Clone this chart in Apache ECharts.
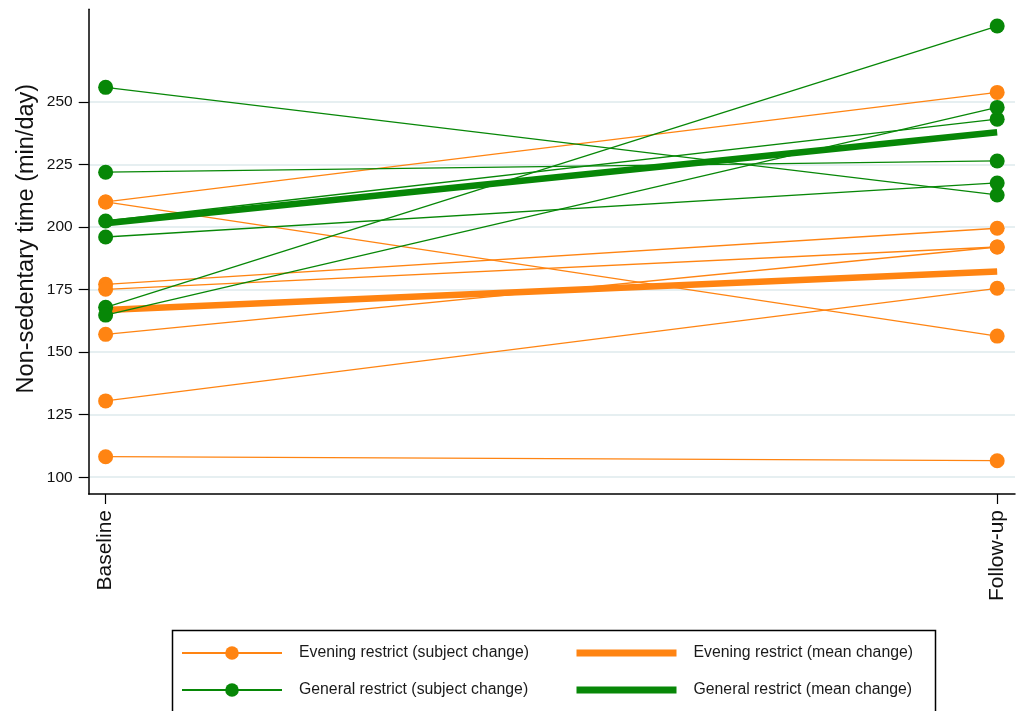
<!DOCTYPE html>
<html>
<head>
<meta charset="utf-8">
<script src="https://cdn.jsdelivr.net/npm/echarts@6/dist/echarts.min.js"></script>
<style>
html,body{margin:0;padding:0;background:#fff;}
#chart{width:1020px;height:711px;}
</style>
</head>
<body>
<div id="chart"></div>
<script>
// ---- data ----
var timepoints = ['Baseline', 'Follow-up'];
var yTicks = [100, 125, 150, 175, 200, 225, 250];
// Evening restrict: each subject's baseline and follow-up value (same index = same subject)
var eveningBaseline = [210.0, 210.0, 177.1, 175.1, 157.1, 130.5, 108.2];
var eveningFollowup = [253.8, 156.4, 199.5, 192.0, 192.0, 175.5, 106.6];
var eveningMean = [166.8, 182.2];
// General restrict
var generalBaseline = [255.8, 221.9, 202.4, 196.0, 167.9, 164.8];
var generalFollowup = [212.8, 226.4, 243.1, 217.6, 280.3, 247.8];
var generalMean = [201.5, 237.9];

var names = {
  evS: 'Evening restrict (subject change)',
  evM: 'Evening restrict (mean change)',
  geS: 'General restrict (subject change)',
  geM: 'General restrict (mean change)'
};
var ORANGE = '#ff8412';
var GREEN = '#078707';
var FONT = '"Liberation Sans", Arial, Helvetica, sans-serif';

var series = [];
function subjectSeries(name, base, follow, color, z) {
  for (var i = 0; i < base.length; i++) {
    series.push({
      name: name, type: 'line', z: z,
      data: [[0, base[i]], [1, follow[i]]],
      symbol: 'circle', symbolSize: 15,
      lineStyle: {color: color, width: 1.3},
      itemStyle: {color: color},
      emphasis: {disabled: true}
    });
  }
}
function meanSeries(name, vals, color, z) {
  series.push({
    name: name, type: 'line', z: z,
    data: [[0, vals[0]], [1, vals[1]]],
    symbol: 'none', showSymbol: false,
    lineStyle: {color: color, width: 6.5},
    itemStyle: {color: color},
    emphasis: {disabled: true}
  });
}
subjectSeries(names.evS, eveningBaseline, eveningFollowup, ORANGE, 2);
meanSeries(names.evM, eveningMean, ORANGE, 3);
subjectSeries(names.geS, generalBaseline, generalFollowup, GREEN, 4);
meanSeries(names.geM, generalMean, GREEN, 5);

function legendAt(item, left, top) {
  return {
    orient: 'horizontal', left: left, top: top,
    itemWidth: 100, itemHeight: 17, itemGap: 10,
    selectedMode: false,
    textStyle: {fontFamily: FONT, fontSize: 15.8, color: '#1a1a1a', padding: [0, 0, 0, 12]},
    data: [item]
  };
}
var meanIcon = function (name) {
  return {name: name, itemStyle: {opacity: 0}, lineStyle: {width: 7}};
};

var chart = echarts.init(document.getElementById('chart'), null, {renderer: 'canvas'});
chart.setOption({
  animation: false,
  backgroundColor: '#fff',
  grid: {left: 88.7, right: 5, top: 9.3, bottom: 217, containLabel: false},
  xAxis: {
    type: 'value', min: -0.019, max: 1.02,
    axisLine: {show: true, onZero: false, lineStyle: {color: '#000', width: 1.5}},
    axisTick: {show: true, length: 10, lineStyle: {color: '#000', width: 1.2}, customValues: [0, 1]},
    axisLabel: {
      customValues: [0, 1], rotate: 90, margin: 16,
      fontFamily: FONT, fontSize: 21, color: '#111',
      formatter: function (v) { return timepoints[Math.round(v)]; }
    },
    splitLine: {show: false}
  },
  yAxis: {
    type: 'value', min: 93.3, max: 287,
    name: 'Non-sedentary time (min/day)',
    nameLocation: 'middle', nameGap: 50, nameMoveOverlap: false,
    nameTextStyle: {fontFamily: FONT, fontSize: 23.5, color: '#111', padding: [0, 0, 0, 26]},
    axisLine: {show: true, onZero: false, lineStyle: {color: '#000', width: 1.5}},
    axisTick: {show: true, length: 10, lineStyle: {color: '#000', width: 1.2}, customValues: yTicks},
    axisLabel: {customValues: yTicks, margin: 16, fontFamily: FONT, fontSize: 15.5, color: '#111'},
    splitLine: {show: true, lineStyle: {color: '#e6eff1', width: 2}}
  },
  legend: [
    legendAt(names.evS, 176, 640),
    legendAt(meanIcon(names.evM), 568, 640),
    legendAt(names.geS, 176, 677),
    legendAt(meanIcon(names.geM), 568, 677)
  ],
  graphic: [{
    type: 'rect', left: 170, top: 628, silent: true,
    shape: {width: 763, height: 100},
    style: {fill: 'none', stroke: '#000', lineWidth: 1.5}
  }],
  series: series
});
</script>
</body>
</html>
